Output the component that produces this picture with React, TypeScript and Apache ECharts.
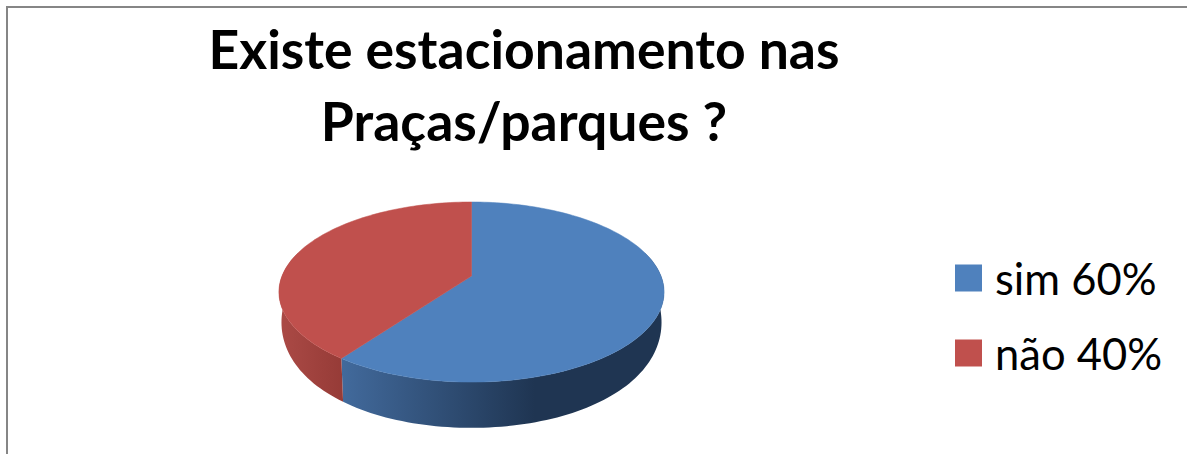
import React, { useEffect, useRef } from "react";
import * as echarts from "echarts";

const titleLines = ["Existe estacionamento nas", "Praças/parques ?"];
const categories = ["sim 60%", "não 40%"];
const values = [60, 40];
const topColors = ["#4f81bd", "#c0504d"];
const wallStops = [
  [
    [0, "#426a9c"],
    [0.6, "#1f3552"],
    [1, "#1f3552"],
  ],
  [
    [0, "#ab4a46"],
    [1, "#963b37"],
  ],
];

const CX = 471.5;
const CY = 276;
const RX = 189.5;
const RY = 87.2;
const PERSPECTIVE = 0.178;
const LOWER_PERSPECTIVE_Y = 0.09;
const LOWER_RX = 187;
const LOWER_RY = 115;
const LOWER_CY = 301.5;
const BACK_LIMIT = -0.3;
const STEP = 1.5;

function depth(deg: number): number {
  return -Math.cos((deg * Math.PI) / 180);
}

function project(deg: number, rx: number, ry: number, cy: number, ky: number): number[] {
  const a = (deg * Math.PI) / 180;
  const u = Math.sin(a);
  const v = depth(deg);
  return [CX + (rx * u) / (1 - PERSPECTIVE * v), cy + (ry * v) / (1 - ky * v)];
}

function angles(start: number, end: number): number[] {
  const out: number[] = [];
  const n = Math.max(2, Math.ceil((end - start) / STEP));
  for (let i = 0; i <= n; i++) out.push(start + ((end - start) * i) / n);
  return out;
}

const total = values.reduce((s, v) => s + v, 0);

function makeSeries(index: number) {
  const before = values.slice(0, index).reduce((s, v) => s + v, 0);
  return {
    type: "custom",
    name: categories[index],
    coordinateSystem: "none",
    itemStyle: { color: topColors[index] },
    silent: true,
    data: [[values[index]]],
    renderItem: (_p: unknown, api: any) => {
      const start = (before / total) * 360;
      const end = start + (api.value(0) / total) * 360;
      const degs = angles(start, end);
      const upper = degs.map((d) => project(d, RX, RY, CY, PERSPECTIVE));
      const front = degs.filter((d) => depth(d) >= BACK_LIMIT);
      const frontUpper = front.map((d) => project(d, RX, RY, CY, PERSPECTIVE));
      const frontLower = front.map((d) => project(d, LOWER_RX, LOWER_RY, LOWER_CY, LOWER_PERSPECTIVE_Y));
      const wallPts = frontUpper.concat(frontLower.slice().reverse());
      const xs = wallPts.map((p) => p[0]);
      const frontStart = Math.min(...xs);
      const frontEnd = Math.max(...xs);
      const stops = wallStops[index].map((s) => ({ offset: s[0], color: s[1] }));
      const fill = new echarts.graphic.LinearGradient(frontStart, 0, frontEnd, 0, stops as any, true);
      const face = [[CX, CY] as number[]].concat(upper);
      const color = topColors[index];
      return {
        type: "group",
        children: [
          { type: "polygon", z2: 1, shape: { points: wallPts }, style: { fill, stroke: "none" } },
          { type: "polygon", z2: 2, shape: { points: face }, style: { fill: color, stroke: color, lineWidth: 0.5 } },
        ],
      };
    },
  };
}

export default function App() {
  const ref = useRef<HTMLDivElement>(null);
  useEffect(() => {
    document.body.style.margin = "0";
    const chart = echarts.init(ref.current!, undefined, { renderer: "svg" });
    chart.setOption({
      animation: false,
      backgroundColor: "#ffffff",
      title: {
        text: titleLines.join("\n"),
        left: 519,
        top: 7,
        textAlign: "center",
        textStyle: {
          fontFamily: "Lato",
          fontWeight: "bold",
          fontSize: 53.5,
          lineHeight: 72,
          color: "#000000",
        },
      },
      legend: {
        orient: "vertical",
        left: 950,
        top: 251,
        icon: "rect",
        itemWidth: 27,
        itemHeight: 27,
        itemGap: 31,
        selectedMode: false,
        data: categories,
        textStyle: {
          fontFamily: "Lato",
          fontSize: 43.5,
          lineHeight: 27,
          color: "#000000",
          padding: [0, 0, 6, 8],
        },
      },
      graphic: [
        {
          type: "polyline",
          silent: true,
          shape: { points: [[7, 454], [7, 7], [1187, 7]] },
          style: { stroke: "#868686", lineWidth: 2, fill: "none" },
        },
      ],
      series: values.map((_, i) => makeSeries(i)),
    });
    return () => chart.dispose();
  }, []);
  return <div ref={ref} style={{ position: "absolute", left: 0, top: 0, width: 1187, height: 454 }} />;
}
